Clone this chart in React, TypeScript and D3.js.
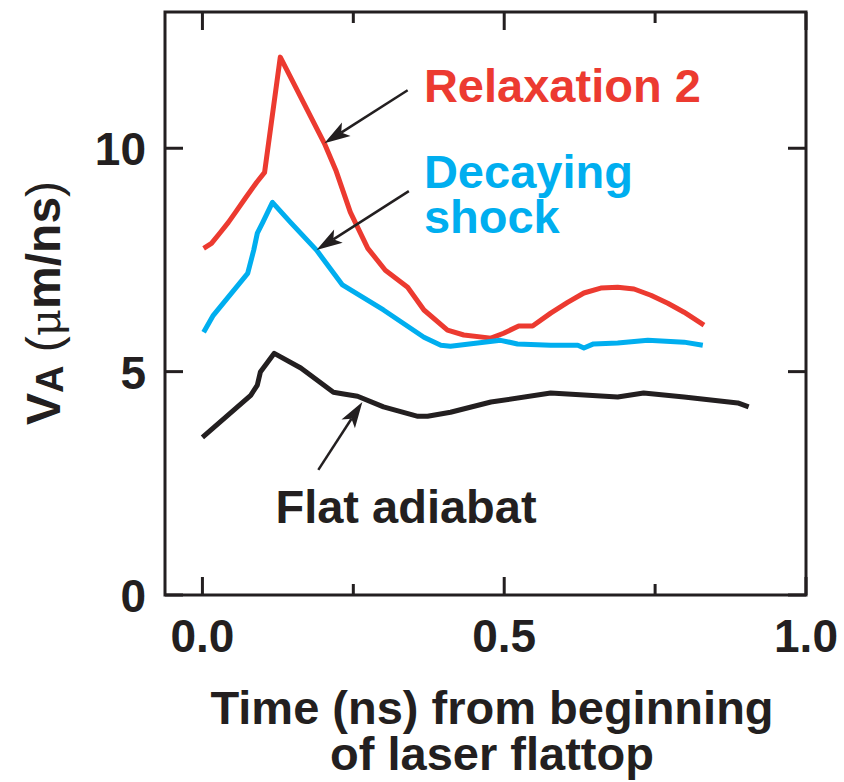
import React from 'react';
import * as d3 from 'd3';

// ---- data ----
const relaxT = [0.002, 0.015, 0.030, 0.043, 0.055, 0.071, 0.090, 0.103, 0.129, 0.202, 0.221, 0.245, 0.274, 0.303, 0.340, 0.367, 0.406, 0.433, 0.478, 0.499, 0.524, 0.547, 0.577, 0.605, 0.632, 0.660, 0.688, 0.715, 0.743, 0.771, 0.798, 0.831];
const relaxV = [7.76, 7.87, 8.12, 8.34, 8.57, 8.88, 9.24, 9.46, 12.04, 10.11, 9.51, 8.57, 7.76, 7.27, 6.89, 6.38, 5.93, 5.82, 5.75, 5.86, 6.02, 6.02, 6.31, 6.55, 6.76, 6.87, 6.89, 6.85, 6.71, 6.53, 6.33, 6.04];

const decayT = [0.002, 0.018, 0.075, 0.085, 0.091, 0.100, 0.116, 0.146, 0.189, 0.232, 0.300, 0.367, 0.395, 0.411, 0.494, 0.522, 0.577, 0.622, 0.632, 0.648, 0.688, 0.738, 0.798, 0.829];
const decayV = [5.88, 6.26, 7.20, 7.72, 8.10, 8.34, 8.79, 8.34, 7.72, 6.94, 6.38, 5.77, 5.59, 5.57, 5.70, 5.62, 5.59, 5.59, 5.53, 5.62, 5.64, 5.70, 5.66, 5.59];

const flatT = [0.0, 0.080, 0.091, 0.096, 0.108, 0.119, 0.163, 0.217, 0.234, 0.257, 0.300, 0.357, 0.373, 0.411, 0.478, 0.577, 0.688, 0.731, 0.798, 0.887, 0.905];
const flatV = [3.53, 4.47, 4.70, 4.99, 5.21, 5.41, 5.08, 4.54, 4.50, 4.45, 4.21, 4.00, 4.00, 4.09, 4.32, 4.52, 4.43, 4.52, 4.43, 4.30, 4.21];

const xTicks = [0, 0.25, 0.5, 0.75, 1.0];
const xLabels = ['0.0', '0.5', '1.0'];
const yTicks = [0, 5, 10];

const series = [
  { name: 'Relaxation 2', t: relaxT, v: relaxV, color: '#ec3a30' },
  { name: 'Decaying shock', t: decayT, v: decayV, color: '#00aeef' },
  { name: 'Flat adiabat', t: flatT, v: flatV, color: '#231f20' },
];

// annotation text (data coords of baseline start) and arrows (from -> tip)
const notes = [
  { lines: ['Relaxation 2'], t: 0.367, v: 11.03, color: '#ec3a30' },
  { lines: ['Decaying', 'shock'], t: 0.367, v: 9.10, color: '#00aeef' },
  { lines: ['Flat adiabat'], t: 0.121, v: 1.61, color: '#231f20' },
];
const arrows = [
  { from: [0.340, 11.30], to: [0.202, 10.11] },
  { from: [0.342, 9.04], to: [0.189, 7.72] },
  { from: [0.192, 2.80], to: [0.265, 4.32] },
];

const W = 844;
const H = 782;
const ink = '#231f20';
const font = '"Liberation Sans", Arial, Helvetica, sans-serif';

export default function App() {
  const x = d3.scaleLinear().domain([-0.062, 1.0]).range([165, 806]);
  const y = d3.scaleLinear().domain([0, 13.05]).range([595, 12]);
  const [x0, x1] = x.range();
  const [y0, y1] = y.range();

  const line = d3.line<[number, number]>()
    .x(d => x(d[0]))
    .y(d => y(d[1]));

  const arrowHead = (fx: number, fy: number, tx: number, ty: number) => {
    const a = Math.atan2(ty - fy, tx - fx);
    const len = 26, half = 8, notch = 6;
    const bx = tx - len * Math.cos(a), by = ty - len * Math.sin(a);
    const nx = tx - (len - notch) * Math.cos(a), ny = ty - (len - notch) * Math.sin(a);
    const px = -Math.sin(a) * half, py = Math.cos(a) * half;
    return `M${tx},${ty}L${bx + px},${by + py}L${nx},${ny}L${bx - px},${by - py}Z`;
  };

  return (
    <svg width={W} height={H} style={{ position: 'absolute', left: 0, top: 0, background: '#fff' }} fontFamily={font}>
      {/* curves */}
      {series.map(s => (
        <path key={s.name}
          d={line(s.t.map((t, i) => [t, s.v[i]] as [number, number])) || ''}
          fill="none" stroke={s.color} strokeWidth={5} strokeLinejoin="round" />
      ))}

      {/* frame */}
      <rect x={x0} y={y1} width={x1 - x0} height={y0 - y1} fill="none" stroke={ink} strokeWidth={3} />

      {/* x ticks, top and bottom */}
      {xTicks.map((t, i) => {
        const len = i % 2 === 0 ? 18 : 11;
        return (
          <g key={'xt' + t}>
            <line x1={x(t)} x2={x(t)} y1={y0} y2={y0 - len} stroke={ink} strokeWidth={3} />
            <line x1={x(t)} x2={x(t)} y1={y1} y2={y1 + len} stroke={ink} strokeWidth={3} />
          </g>
        );
      })}
      {xLabels.map(l => (
        <text key={'xl' + l} x={x(+l)} y={652} textAnchor="middle" fontSize={46} fontWeight="bold" fill={ink}>{l}</text>
      ))}

      {/* y ticks, left and right */}
      {yTicks.map(v => (
        <g key={'yt' + v}>
          <line x1={x0} x2={x0 + 18} y1={y(v)} y2={y(v)} stroke={ink} strokeWidth={3} />
          <line x1={x1} x2={x1 - 18} y1={y(v)} y2={y(v)} stroke={ink} strokeWidth={3} />
          <text x={146} y={y(v) + 17} textAnchor="end" fontSize={46} fontWeight="bold" fill={ink}>{v}</text>
        </g>
      ))}

      {/* axis titles */}
      <text x={492} y={724} textAnchor="middle" fontSize={47} fontWeight="bold" fill={ink}>Time (ns) from beginning</text>
      <text x={492} y={770} textAnchor="middle" fontSize={47} fontWeight="bold" fill={ink}>of laser flattop</text>
      <text transform="translate(60,303) rotate(-90)" textAnchor="middle" fontSize={48} fontWeight="bold" fill={ink}>
        <tspan>V</tspan>
        <tspan fontSize={38} dy={3}>A</tspan>
        <tspan dy={-3} fontWeight="normal"> (</tspan>
        <tspan fontWeight="normal" fontFamily='"DejaVu Serif", serif' fontSize={42}>μ</tspan>
        <tspan>m/ns</tspan>
        <tspan fontWeight="normal">)</tspan>
      </text>

      {/* annotations */}
      {notes.map(n => (
        <text key={n.lines[0]} x={x(n.t)} y={y(n.v)} fontSize={47} fontWeight="bold" fill={n.color}>
          {n.lines.map((l, i) => (
            <tspan key={l} x={x(n.t)} dy={i === 0 ? 0 : 45}>{l}</tspan>
          ))}
        </text>
      ))}
      {arrows.map((a, i) => {
        const fx = x(a.from[0]), fy = y(a.from[1]);
        const tx = x(a.to[0]), ty = y(a.to[1]);
        const ang = Math.atan2(ty - fy, tx - fx);
        return (
          <g key={'ar' + i}>
            <line x1={fx} y1={fy} x2={tx - 20 * Math.cos(ang)} y2={ty - 20 * Math.sin(ang)} stroke={ink} strokeWidth={2.5} />
            <path d={arrowHead(fx, fy, tx, ty)} fill={ink} />
          </g>
        );
      })}
    </svg>
  );
}
